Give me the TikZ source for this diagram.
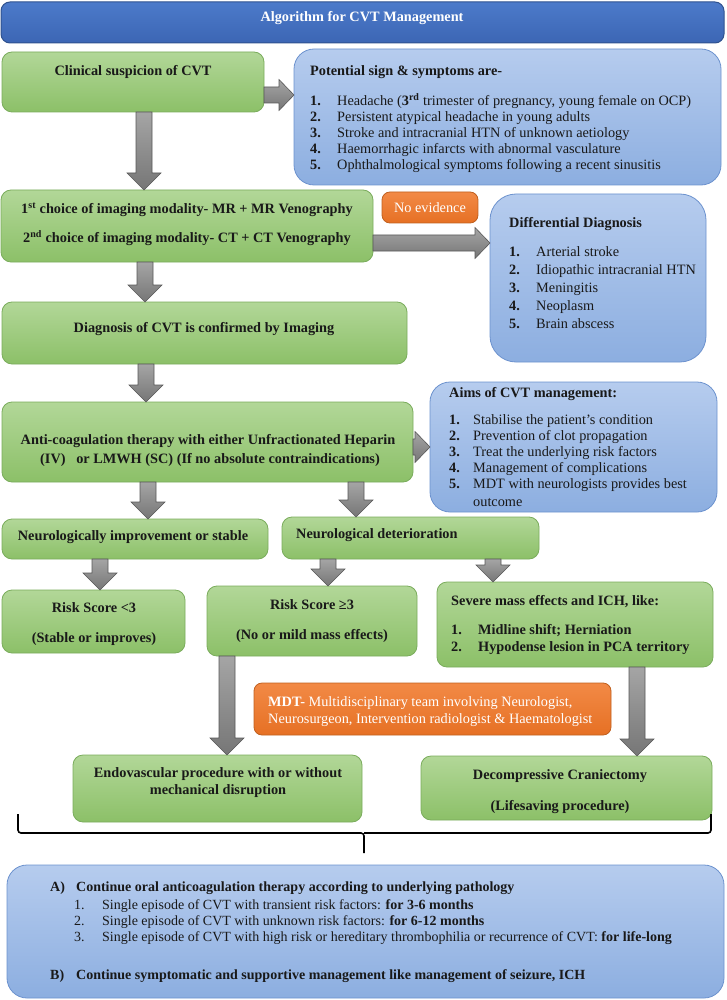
\documentclass[tikz,border=0pt]{standalone}
\usepackage{fontspec}
\setmainfont{Liberation Serif}
\usetikzlibrary{calc}
\definecolor{gtop}{RGB}{178,215,152}
\definecolor{gbot}{RGB}{140,192,104}
\definecolor{gline}{RGB}{122,172,92}
\definecolor{btop}{RGB}{182,204,238}
\definecolor{bbot}{RGB}{140,174,224}
\definecolor{bline}{RGB}{108,146,206}
\definecolor{htop}{RGB}{76,122,202}
\definecolor{hbot}{RGB}{60,102,180}
\definecolor{hline}{RGB}{47,82,143}
\definecolor{otop}{RGB}{242,138,70}
\definecolor{obot}{RGB}{230,112,36}
\definecolor{oline}{RGB}{192,96,31}
\definecolor{atop}{RGB}{165,165,165}
\definecolor{abot}{RGB}{118,118,118}
\definecolor{aline}{RGB}{88,88,88}
\definecolor{ink}{RGB}{25,25,25}
\tikzset{
  boxbase/.style={inner sep=0pt, outer sep=0pt, anchor=north west},
  gbox/.style={boxbase, draw=gline, line width=0.8pt, top color=gtop, bottom color=gbot, rounded corners=10pt},
  bbox/.style={boxbase, draw=bline, line width=0.8pt, top color=btop, bottom color=bbot, rounded corners=20pt},
  hbox/.style={boxbase, draw=hline, line width=1pt, top color=htop, bottom color=hbot, rounded corners=9pt},
  obox/.style={boxbase, draw=oline, line width=0.8pt, top color=otop, bottom color=obot, rounded corners=8pt},
  garrow/.style={draw=aline, line width=0.6pt, top color=atop, bottom color=abot},
  txt/.style={inner sep=0pt, anchor=base, text=ink},
  ltxt/.style={inner sep=0pt, anchor=base west, text=ink},
  brace/.style={draw=black, line width=1.6pt, rounded corners=3pt},
}
\newcommand\boxat[6]{\node[#2, minimum width={(#5-#3)*1pt}, minimum height={(#6-#4)*1pt}] (#1) at (#3,#4) {};}
\newcommand\varrow[3]{\path[garrow] let \p1=(#2.south), \p2=(#3.north), \p3=(#1,0) in
  (\x3-8pt,\y1) -- (\x3-8pt,\y2+17pt) -- (\x3-17pt,\y2+17pt) -- (\x3,\y2) --
  (\x3+17pt,\y2+17pt) -- (\x3+8pt,\y2+17pt) -- (\x3+8pt,\y1) -- cycle;}
\newcommand\harrow[3]{\path[garrow] let \p1=(#2.east), \p2=(#3.west), \p3=(0,#1) in
  (\x1,\y3+8pt) -- (\x2-15pt,\y3+8pt) -- (\x2-15pt,\y3+15.5pt) -- (\x2,\y3) --
  (\x2-15pt,\y3-15.5pt) -- (\x2-15pt,\y3-8pt) -- (\x1,\y3-8pt) -- cycle;}
\begin{document}
\fontsize{14.3}{16}\selectfont
\begin{tikzpicture}[x=1pt,y=-1pt]
\useasboundingbox (0,0) rectangle (726,1000);

% boxes
\boxat{head}{hbox}{1}{2}{724}{43}
\boxat{clin}{gbox}{2}{52}{264}{112}
\boxat{pot}{bbox}{294}{49}{721}{185}
\boxat{img}{gbox}{1}{190}{373}{262}
\boxat{noev}{obox}{382}{192}{478}{223}
\boxat{diff}{bbox, rounded corners=26pt}{490}{194}{706}{362}
\boxat{diag}{gbox}{2}{302}{407}{364}
\boxat{anti}{gbox}{2}{402}{413}{482}
\boxat{aims}{bbox}{430}{382}{717}{512}
\boxat{nimp}{gbox}{2}{519}{268}{559}
\boxat{ndet}{gbox}{282}{517}{539}{559}
\boxat{rlow}{gbox}{2}{590}{185}{653}
\boxat{rhigh}{gbox}{207}{586}{417}{656}
\boxat{sev}{gbox}{437}{582}{713}{667}
\boxat{mdt}{obox}{254}{683}{611}{735}
\boxat{endo}{gbox}{73}{755}{362}{822}
\boxat{deco}{gbox}{421}{756}{712}{820}
\boxat{bot}{bbox}{7}{865}{724}{998}

% arrows
\varrow{144}{clin}{img}
\varrow{145}{img}{diag}
\varrow{146}{diag}{anti}
\varrow{148}{anti}{nimp}
\varrow{356}{anti}{ndet}
\varrow{100}{nimp}{rlow}
\varrow{328}{ndet}{rhigh}
\varrow{493}{ndet}{sev}
\varrow{227}{rhigh}{endo}
\varrow{637}{sev}{deco}
\harrow{95}{clin}{pot}
\harrow{243}{img}{diff}
\harrow{447}{anti}{aims}

% brace
\coordinate (brL) at (18,814);
\coordinate (brR) at (711,814);
\coordinate (brM) at (364,833);
\coordinate (brT) at (364,853);
\draw[brace] (brL) |- (brM) -- (brT);
\draw[brace] (brR) |- (brM);

% texts
\node[txt, text=white, font=\bfseries] (headT) at (362,21.5) {Algorithm for CVT Management};
\node[txt, font=\bfseries] (clinT) at (133,75.5) {Clinical suspicion of CVT};

\node[ltxt, font=\bfseries] (potT) at (310,75.5) {Potential sign \& symptoms are-};
\node[ltxt] (potL) at (310,106) {\begin{tabular}[t]{@{}p{27pt}@{}l@{}}
\textbf{1.} & Headache (\textbf{3\textsuperscript{rd}} trimester of pregnancy, young female on OCP)\\
\textbf{2.} & Persistent atypical headache in young adults\\
\textbf{3.} & Stroke and intracranial HTN of unknown aetiology\\
\textbf{4.} & Haemorrhagic infarcts with abnormal vasculature\\
\textbf{5.} & Ophthalmological symptoms following a recent sinusitis
\end{tabular}};

\node[txt, font=\bfseries] (imgA) at (187,213.5) {1\textsuperscript{st} choice of imaging modality- MR + MR Venography};
\node[txt, font=\bfseries] (imgB) at (187,242.5) {2\textsuperscript{nd} choice of imaging modality- CT + CT Venography};
\node[txt, text=white] (noevT) at (430,212.5) {No evidence};

\node[ltxt, font=\bfseries] (diffT) at (509,227.5) {Differential Diagnosis};
\node[ltxt] (diffL) at (509,256.5) {\fontsize{14.3}{18}\selectfont\begin{tabular}[t]{@{}p{27pt}@{}l@{}}
\textbf{1.} & Arterial stroke\\
\textbf{2.} & Idiopathic intracranial HTN\\
\textbf{3.} & Meningitis\\
\textbf{4.} & Neoplasm\\
\textbf{5.} & Brain abscess
\end{tabular}};

\node[txt, font=\bfseries] (diagT) at (204,332.5) {Diagnosis of CVT is confirmed by Imaging};

\node[txt, font=\bfseries] (antiA) at (208,444.5) {Anti-coagulation therapy with either Unfractionated Heparin};
\node[txt, font=\bfseries] (antiB) at (210,463.5) {(IV)\ \ \ or LMWH (SC) (If no absolute contraindications)};

\node[ltxt, font=\bfseries] (aimsT) at (449,397.5) {Aims of CVT management:};
\node[ltxt] (aimsL) at (449,424.5) {\begin{tabular}[t]{@{}p{24pt}@{}l@{}}
\textbf{1.} & Stabilise the patient's condition\\
\textbf{2.} & Prevention of clot propagation\\
\textbf{3.} & Treat the underlying risk factors\\
\textbf{4.} & Management of complications\\
\textbf{5.} & MDT with neurologists provides best\\[2pt]
 & outcome
\end{tabular}};

\node[txt, font=\bfseries] (nimpT) at (133,540.5) {Neurologically improvement or stable};
\node[ltxt, font=\bfseries] (ndetT) at (296,538.5) {Neurological deterioration};

\node[txt, font=\bfseries] (rlowA) at (94,612.5) {Risk Score <3};
\node[txt, font=\bfseries] (rlowB) at (94,642.5) {(Stable or improves)};
\node[txt, font=\bfseries] (rhighA) at (312,609.5) {Risk Score ≥3};
\node[txt, font=\bfseries] (rhighB) at (312,639.5) {(No or mild mass effects)};

\node[ltxt, font=\bfseries] (sevT) at (451,605.5) {Severe mass effects and ICH, like:};
\node[ltxt, font=\bfseries] (sevL) at (451,634.5) {\fontsize{14.3}{17}\selectfont\begin{tabular}[t]{@{}p{27pt}@{}l@{}}
1. & Midline shift; Herniation\\
2. & Hypodense lesion in PCA territory
\end{tabular}};

\node[ltxt, text=white] (mdtA) at (268,706.5) {\textbf{MDT-} Multidisciplinary team involving Neurologist,};
\node[ltxt, text=white] (mdtB) at (268,723.5) {Neurosurgeon, Intervention radiologist \& Haematologist};

\node[txt, font=\bfseries] (endoA) at (218,777.5) {Endovascular procedure with or without};
\node[txt, font=\bfseries] (endoB) at (218,794.5) {mechanical disruption};
\node[txt, font=\bfseries] (decoA) at (560,779.5) {Decompressive Craniectomy};
\node[txt, font=\bfseries] (decoB) at (560,810.5) {(Lifesaving procedure)};

\node[ltxt, font=\bfseries] (botA) at (50,891.5) {\fontsize{14}{16}\selectfont\begin{tabular}[t]{@{}p{26pt}@{}l@{}}A) & Continue oral anticoagulation therapy according to underlying pathology\end{tabular}};
\node[ltxt] (botL) at (74,909.5) {\fontsize{14}{16}\selectfont\begin{tabular}[t]{@{}p{28pt}@{}l@{}}
1. & Single episode of CVT with transient risk factors: \textbf{for 3-6 months}\\
2. & Single episode of CVT with unknown risk factors: \textbf{for 6-12 months}\\
3. & Single episode of CVT with high risk or hereditary thrombophilia or recurrence of CVT: \textbf{for life-long}
\end{tabular}};
\node[ltxt, font=\bfseries] (botB) at (50,979.5) {\fontsize{14}{16}\selectfont\begin{tabular}[t]{@{}p{26pt}@{}l@{}}B) & Continue symptomatic and supportive management like management of seizure, ICH\end{tabular}};
\end{tikzpicture}
\end{document}
